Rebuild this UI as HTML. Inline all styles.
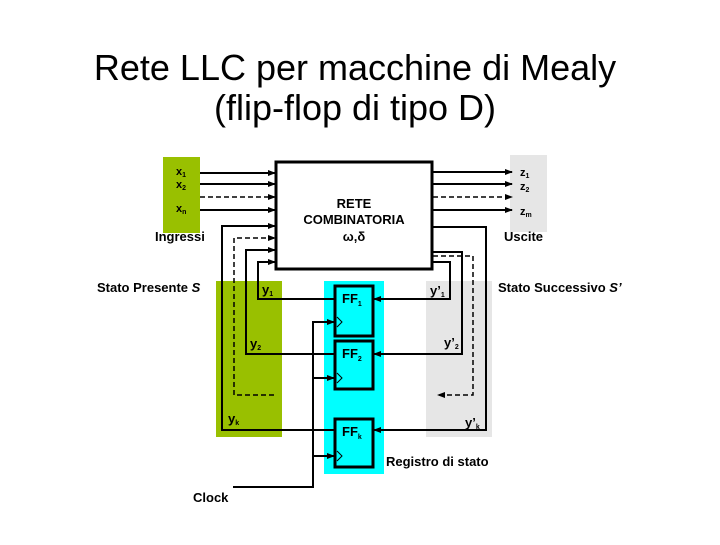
<!DOCTYPE html>
<html><head><meta charset="utf-8"><style>
body{margin:0;background:#fff;width:720px;height:540px;overflow:hidden}
text{font-family:"Liberation Sans",sans-serif;font-weight:bold;fill:#000}
</style></head><body>
<svg width="720" height="540" viewBox="0 0 720 540" xmlns="http://www.w3.org/2000/svg">
<defs><marker id="a" markerWidth="8" markerHeight="8" refX="7" refY="4" orient="auto" markerUnits="userSpaceOnUse"><path d="M0,1 L8,4 L0,7z" fill="#000"/></marker></defs>
<text x="355" y="80" font-size="36" text-anchor="middle" style="font-weight:normal">Rete LLC per macchine di Mealy</text>
<text x="355" y="120" font-size="36" text-anchor="middle" style="font-weight:normal">(flip-flop di tipo D)</text>
<rect x="163" y="157" width="37" height="76" fill="#99c000"/>
<rect x="510" y="155" width="37" height="77" fill="#e6e6e6"/>
<rect x="216" y="281" width="66" height="156" fill="#99c000"/>
<rect x="426" y="281" width="66" height="156" fill="#e6e6e6"/>
<rect x="324" y="281" width="60" height="193" fill="#00ffff"/>
<rect x="276" y="162" width="156" height="107" fill="#fff" stroke="#000" stroke-width="3"/>
<g font-size="11"><text x="176" y="175">x<tspan font-size="7" dy="2">1</tspan></text><text x="176" y="188">x<tspan font-size="7" dy="2">2</tspan></text><text x="176" y="212">x<tspan font-size="7" dy="2">n</tspan></text>
<text x="520" y="176">z<tspan font-size="7" dy="2">1</tspan></text><text x="520" y="190">z<tspan font-size="7" dy="2">2</tspan></text><text x="520" y="215">z<tspan font-size="7" dy="2">m</tspan></text></g>
<g font-size="13"><text x="354" y="208" text-anchor="middle">RETE</text><text x="354" y="224" text-anchor="middle">COMBINATORIA</text><text x="354" y="241" text-anchor="middle">ω,δ</text>
<text x="155" y="241">Ingressi</text><text x="504" y="241">Uscite</text>
<text x="97" y="292">Stato Presente <tspan font-style="italic">S</tspan></text><text x="498" y="292">Stato Successivo <tspan font-style="italic">S’</tspan></text>
<text x="386" y="466">Registro di stato</text><text x="193" y="502">Clock</text>
<text x="262" y="294">y<tspan font-size="7" dy="2">1</tspan></text><text x="250" y="348">y<tspan font-size="7" dy="2">2</tspan></text><text x="228" y="423">y<tspan font-size="7" dy="2">k</tspan></text>
<text x="430" y="295">y’<tspan font-size="7" dy="2">1</tspan></text><text x="444" y="347">y’<tspan font-size="7" dy="2">2</tspan></text><text x="465" y="427">y’<tspan font-size="7" dy="2">k</tspan></text></g>
<g fill="#00ffff" stroke="#000" stroke-width="3"><rect x="335" y="286" width="38" height="50"/><rect x="335" y="341" width="38" height="48"/><rect x="335" y="419" width="38" height="48"/></g>
<g font-size="13"><text x="342" y="303">FF<tspan font-size="7" dy="3">1</tspan></text><text x="342" y="358">FF<tspan font-size="7" dy="3">2</tspan></text><text x="342" y="436">FF<tspan font-size="7" dy="3">k</tspan></text></g>
<g fill="none" stroke="#000" stroke-width="1"><path d="M337,317 l5,5 l-5,5"/><path d="M337,373 l5,5 l-5,5"/><path d="M337,451 l5,5 l-5,5"/></g>
<g stroke="#000" stroke-width="2" fill="none" marker-end="url(#a)">
<path d="M200,173H275"/><path d="M200,184H275"/><path d="M200,210H275"/>
<path d="M433,172H512"/><path d="M433,184H512"/><path d="M433,210H512"/>
<path d="M335,299H258V262H275"/><path d="M335,354H246V250H275"/><path d="M335,430H222V226H275"/>
<path d="M433,262H450V299H374"/><path d="M433,252H462V354H374"/><path d="M433,227H486V430H374"/>
<path d="M233,487H313V322H334"/><path d="M313,378H334"/><path d="M313,456H334"/>
</g>
<g stroke="#000" stroke-width="1.5" fill="none" stroke-dasharray="5,3" marker-end="url(#a)">
<path d="M200,197H275"/><path d="M433,197H512"/><path d="M274,395H234V238H275"/><path d="M433,256H473V395H438"/>
</g>
</svg>
</body></html>
